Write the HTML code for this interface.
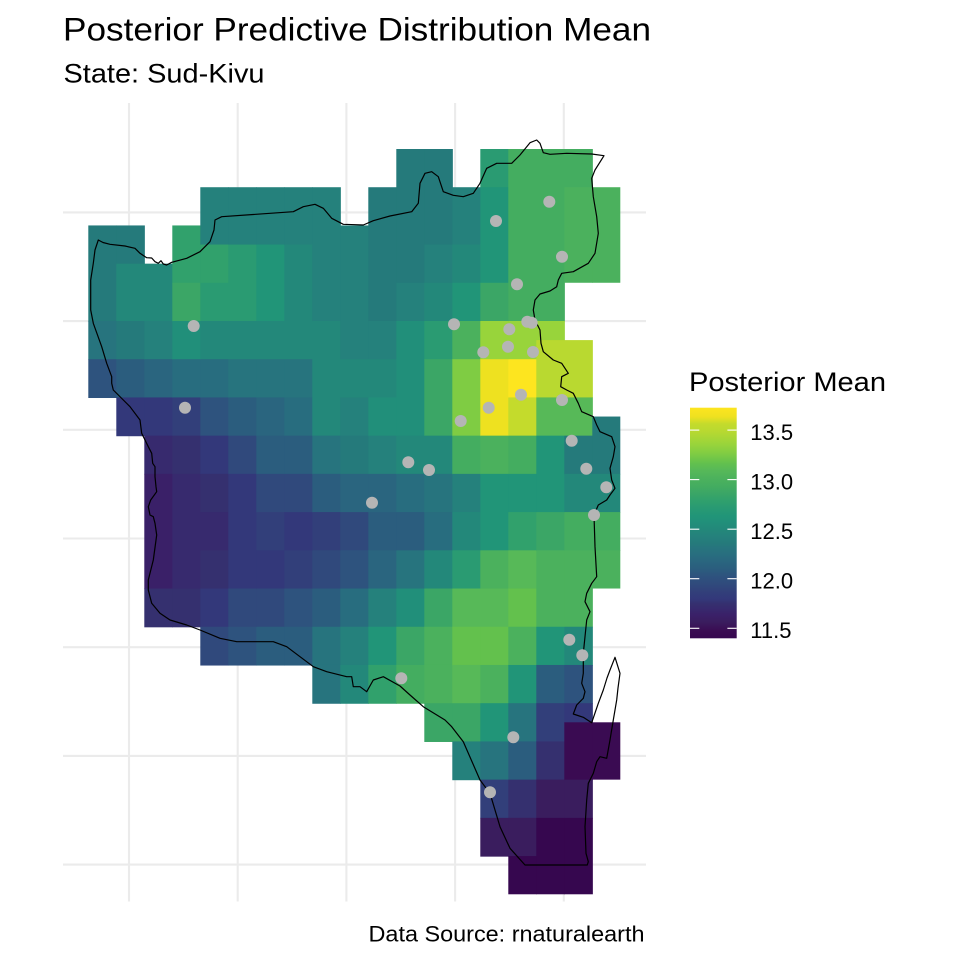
<!DOCTYPE html>
<html><head><meta charset="utf-8"><style>
html,body{margin:0;padding:0;background:#fff;width:960px;height:960px;overflow:hidden}
svg{display:block}
text{font-family:"Liberation Sans",Arial,sans-serif;fill:#000}
</style></head><body>
<svg width="960" height="960" viewBox="0 0 960 960" xmlns="http://www.w3.org/2000/svg">
<rect width="960" height="960" fill="#fff"/>
<defs>
<linearGradient id="vir" x1="0" y1="0" x2="0" y2="1">
<stop offset="0" stop-color="#fde51f"/><stop offset="0.04" stop-color="#eee120"/><stop offset="0.07" stop-color="#c4db2c"/><stop offset="0.1" stop-color="#b9d930"/><stop offset="0.16" stop-color="#98d43b"/><stop offset="0.2" stop-color="#7fcc43"/><stop offset="0.24" stop-color="#63c14d"/><stop offset="0.27" stop-color="#57b958"/><stop offset="0.31" stop-color="#4bb15d"/><stop offset="0.34" stop-color="#44ad60"/><stop offset="0.37" stop-color="#3ba666"/><stop offset="0.4" stop-color="#31a16c"/><stop offset="0.43" stop-color="#2a9b72"/><stop offset="0.47" stop-color="#219578"/><stop offset="0.5" stop-color="#218f7a"/><stop offset="0.53" stop-color="#23887a"/><stop offset="0.56" stop-color="#25817c"/><stop offset="0.59" stop-color="#257a7b"/><stop offset="0.61" stop-color="#27747e"/><stop offset="0.64" stop-color="#286d7f"/><stop offset="0.67" stop-color="#2a657f"/><stop offset="0.7" stop-color="#2b5d7e"/><stop offset="0.73" stop-color="#2e537e"/><stop offset="0.77" stop-color="#30497c"/><stop offset="0.8" stop-color="#323f7a"/><stop offset="0.83" stop-color="#33387a"/><stop offset="0.85" stop-color="#35306f"/><stop offset="0.87" stop-color="#372a6e"/><stop offset="0.9" stop-color="#3a2068"/><stop offset="0.93" stop-color="#3a1d5e"/><stop offset="0.97" stop-color="#3a0b52"/><stop offset="1" stop-color="#36074f"/>
</linearGradient>
</defs>
<g stroke="#ebebeb" stroke-width="2.1">
<line x1="63" y1="212.4" x2="646" y2="212.4"/><line x1="63" y1="321.1" x2="646" y2="321.1"/><line x1="63" y1="429.8" x2="646" y2="429.8"/><line x1="63" y1="538.5" x2="646" y2="538.5"/><line x1="63" y1="647.2" x2="646" y2="647.2"/><line x1="63" y1="755.9" x2="646" y2="755.9"/><line x1="63" y1="864.6" x2="646" y2="864.6"/>
<line x1="129" y1="103" x2="129" y2="901.5"/><line x1="237.7" y1="103" x2="237.7" y2="901.5"/><line x1="346.4" y1="103" x2="346.4" y2="901.5"/><line x1="455.1" y1="103" x2="455.1" y2="901.5"/><line x1="563.8" y1="103" x2="563.8" y2="901.5"/>
</g>
<g transform="translate(88.3 149) scale(28 19.11)">
<rect x="0" y="4" width="1.02" height="5.03" fill="#257a7b"/><rect x="0" y="9" width="1.02" height="2.03" fill="#27747e"/><rect x="0" y="11" width="1.02" height="2.03" fill="#2e537e"/>
<rect x="1" y="4" width="1.02" height="2.03" fill="#257a7b"/><rect x="1" y="6" width="1.02" height="3.03" fill="#23887a"/><rect x="1" y="9" width="1.02" height="2.03" fill="#257a7b"/><rect x="1" y="11" width="1.02" height="2.03" fill="#2b5d7e"/><rect x="1" y="13" width="1.02" height="2.03" fill="#33387a"/>
<rect x="2" y="6" width="1.02" height="3.03" fill="#23887a"/><rect x="2" y="9" width="1.02" height="2.03" fill="#25817c"/><rect x="2" y="11" width="1.02" height="2.03" fill="#2a657f"/><rect x="2" y="13" width="1.02" height="2.03" fill="#33387a"/><rect x="2" y="15" width="1.02" height="2.03" fill="#372a6e"/><rect x="2" y="17" width="1.02" height="6.03" fill="#3a2068"/><rect x="2" y="23" width="1.02" height="2.03" fill="#35306f"/>
<rect x="3" y="4" width="1.02" height="3.03" fill="#31a16c"/><rect x="3" y="7" width="1.02" height="2.03" fill="#3ba666"/><rect x="3" y="9" width="1.02" height="2.03" fill="#218f7a"/><rect x="3" y="11" width="1.02" height="2.03" fill="#286d7f"/><rect x="3" y="13" width="1.02" height="2.03" fill="#323f7a"/><rect x="3" y="15" width="1.02" height="2.03" fill="#35306f"/><rect x="3" y="17" width="1.02" height="6.03" fill="#372a6e"/><rect x="3" y="23" width="1.02" height="2.03" fill="#35306f"/>
<rect x="4" y="2" width="1.02" height="3.03" fill="#25817c"/><rect x="4" y="5" width="1.02" height="2.03" fill="#31a16c"/><rect x="4" y="7" width="1.02" height="2.03" fill="#2a9b72"/><rect x="4" y="9" width="1.02" height="2.03" fill="#23887a"/><rect x="4" y="11" width="1.02" height="2.03" fill="#286d7f"/><rect x="4" y="13" width="1.02" height="2.03" fill="#2e537e"/><rect x="4" y="15" width="1.02" height="2.03" fill="#33387a"/><rect x="4" y="17" width="1.02" height="2.03" fill="#35306f"/><rect x="4" y="19" width="1.02" height="2.03" fill="#372a6e"/><rect x="4" y="21" width="1.02" height="2.03" fill="#35306f"/><rect x="4" y="23" width="1.02" height="2.03" fill="#33387a"/><rect x="4" y="25" width="1.02" height="2.03" fill="#30497c"/>
<rect x="5" y="2" width="1.02" height="3.03" fill="#25817c"/><rect x="5" y="5" width="1.02" height="4.03" fill="#2a9b72"/><rect x="5" y="9" width="1.02" height="2.03" fill="#23887a"/><rect x="5" y="11" width="1.02" height="2.03" fill="#27747e"/><rect x="5" y="13" width="1.02" height="2.03" fill="#2b5d7e"/><rect x="5" y="15" width="1.02" height="2.03" fill="#30497c"/><rect x="5" y="17" width="1.02" height="6.03" fill="#33387a"/><rect x="5" y="23" width="1.02" height="2.03" fill="#30497c"/><rect x="5" y="25" width="1.02" height="2.03" fill="#2e537e"/>
<rect x="6" y="2" width="1.02" height="3.03" fill="#25817c"/><rect x="6" y="5" width="1.02" height="4.03" fill="#219578"/><rect x="6" y="9" width="1.02" height="2.03" fill="#23887a"/><rect x="6" y="11" width="1.02" height="2.03" fill="#27747e"/><rect x="6" y="13" width="1.02" height="2.03" fill="#2a657f"/><rect x="6" y="15" width="1.02" height="2.03" fill="#2b5d7e"/><rect x="6" y="17" width="1.02" height="2.03" fill="#30497c"/><rect x="6" y="19" width="1.02" height="2.03" fill="#323f7a"/><rect x="6" y="21" width="1.02" height="2.03" fill="#33387a"/><rect x="6" y="23" width="1.02" height="2.03" fill="#30497c"/><rect x="6" y="25" width="1.02" height="2.03" fill="#2b5d7e"/>
<rect x="7" y="2" width="1.02" height="3.03" fill="#25817c"/><rect x="7" y="5" width="1.02" height="6.03" fill="#23887a"/><rect x="7" y="11" width="1.02" height="2.03" fill="#27747e"/><rect x="7" y="13" width="1.02" height="2.03" fill="#286d7f"/><rect x="7" y="15" width="1.02" height="2.03" fill="#2b5d7e"/><rect x="7" y="17" width="1.02" height="2.03" fill="#30497c"/><rect x="7" y="19" width="1.02" height="2.03" fill="#33387a"/><rect x="7" y="21" width="1.02" height="2.03" fill="#323f7a"/><rect x="7" y="23" width="1.02" height="2.03" fill="#2e537e"/><rect x="7" y="25" width="1.02" height="2.03" fill="#2b5d7e"/>
<rect x="8" y="2" width="1.02" height="7.03" fill="#25817c"/><rect x="8" y="9" width="1.02" height="6.03" fill="#23887a"/><rect x="8" y="15" width="1.02" height="2.03" fill="#27747e"/><rect x="8" y="17" width="1.02" height="2.03" fill="#2b5d7e"/><rect x="8" y="19" width="1.02" height="2.03" fill="#323f7a"/><rect x="8" y="21" width="1.02" height="2.03" fill="#30497c"/><rect x="8" y="23" width="1.02" height="2.03" fill="#2b5d7e"/><rect x="8" y="25" width="1.02" height="2.03" fill="#27747e"/><rect x="8" y="27" width="1.02" height="2.03" fill="#27747e"/>
<rect x="9" y="4" width="1.02" height="7.03" fill="#25817c"/><rect x="9" y="11" width="1.02" height="2.03" fill="#23887a"/><rect x="9" y="13" width="1.02" height="2.03" fill="#25817c"/><rect x="9" y="15" width="1.02" height="2.03" fill="#257a7b"/><rect x="9" y="17" width="1.02" height="2.03" fill="#2a657f"/><rect x="9" y="19" width="1.02" height="2.03" fill="#30497c"/><rect x="9" y="21" width="1.02" height="2.03" fill="#2e537e"/><rect x="9" y="23" width="1.02" height="2.03" fill="#286d7f"/><rect x="9" y="25" width="1.02" height="2.03" fill="#25817c"/><rect x="9" y="27" width="1.02" height="2.03" fill="#23887a"/>
<rect x="10" y="2" width="1.02" height="7.03" fill="#257a7b"/><rect x="10" y="9" width="1.02" height="2.03" fill="#25817c"/><rect x="10" y="11" width="1.02" height="2.03" fill="#23887a"/><rect x="10" y="13" width="1.02" height="2.03" fill="#218f7a"/><rect x="10" y="15" width="1.02" height="2.03" fill="#25817c"/><rect x="10" y="17" width="1.02" height="2.03" fill="#2a657f"/><rect x="10" y="19" width="1.02" height="2.03" fill="#2b5d7e"/><rect x="10" y="21" width="1.02" height="2.03" fill="#2a657f"/><rect x="10" y="23" width="1.02" height="2.03" fill="#25817c"/><rect x="10" y="25" width="1.02" height="2.03" fill="#219578"/><rect x="10" y="27" width="1.02" height="2.03" fill="#31a16c"/>
<rect x="11" y="0" width="1.02" height="7.03" fill="#257a7b"/><rect x="11" y="7" width="1.02" height="2.03" fill="#25817c"/><rect x="11" y="9" width="1.02" height="6.03" fill="#218f7a"/><rect x="11" y="15" width="1.02" height="2.03" fill="#23887a"/><rect x="11" y="17" width="1.02" height="2.03" fill="#286d7f"/><rect x="11" y="19" width="1.02" height="2.03" fill="#2b5d7e"/><rect x="11" y="21" width="1.02" height="2.03" fill="#27747e"/><rect x="11" y="23" width="1.02" height="2.03" fill="#218f7a"/><rect x="11" y="25" width="1.02" height="2.03" fill="#3ba666"/><rect x="11" y="27" width="1.02" height="2.03" fill="#44ad60"/>
<rect x="12" y="0" width="1.02" height="5.03" fill="#257a7b"/><rect x="12" y="5" width="1.02" height="2.03" fill="#25817c"/><rect x="12" y="7" width="1.02" height="2.03" fill="#23887a"/><rect x="12" y="9" width="1.02" height="2.03" fill="#2a9b72"/><rect x="12" y="11" width="1.02" height="4.03" fill="#3ba666"/><rect x="12" y="15" width="1.02" height="2.03" fill="#23887a"/><rect x="12" y="17" width="1.02" height="2.03" fill="#27747e"/><rect x="12" y="19" width="1.02" height="2.03" fill="#286d7f"/><rect x="12" y="21" width="1.02" height="2.03" fill="#23887a"/><rect x="12" y="23" width="1.02" height="2.03" fill="#3ba666"/><rect x="12" y="25" width="1.02" height="2.03" fill="#4bb15d"/><rect x="12" y="27" width="1.02" height="2.03" fill="#4bb15d"/><rect x="12" y="29" width="1.02" height="2.03" fill="#3ba666"/>
<rect x="13" y="2" width="1.02" height="3.03" fill="#25817c"/><rect x="13" y="5" width="1.02" height="2.03" fill="#23887a"/><rect x="13" y="7" width="1.02" height="2.03" fill="#219578"/><rect x="13" y="9" width="1.02" height="2.03" fill="#4bb15d"/><rect x="13" y="11" width="1.02" height="4.03" fill="#7fcc43"/><rect x="13" y="15" width="1.02" height="2.03" fill="#44ad60"/><rect x="13" y="17" width="1.02" height="2.03" fill="#25817c"/><rect x="13" y="19" width="1.02" height="2.03" fill="#23887a"/><rect x="13" y="21" width="1.02" height="2.03" fill="#2a9b72"/><rect x="13" y="23" width="1.02" height="2.03" fill="#57b958"/><rect x="13" y="25" width="1.02" height="2.03" fill="#63c14d"/><rect x="13" y="27" width="1.02" height="2.03" fill="#57b958"/><rect x="13" y="29" width="1.02" height="2.03" fill="#3ba666"/><rect x="13" y="31" width="1.02" height="2.03" fill="#25817c"/>
<rect x="14" y="0" width="1.02" height="2.03" fill="#2a9b72"/><rect x="14" y="2" width="1.02" height="5.03" fill="#219578"/><rect x="14" y="7" width="1.02" height="2.03" fill="#3ba666"/><rect x="14" y="9" width="1.02" height="2.03" fill="#98d43b"/><rect x="14" y="11" width="1.02" height="4.03" fill="#eee120"/><rect x="14" y="15" width="1.02" height="2.03" fill="#4bb15d"/><rect x="14" y="17" width="1.02" height="4.03" fill="#219578"/><rect x="14" y="21" width="1.02" height="2.03" fill="#4bb15d"/><rect x="14" y="23" width="1.02" height="2.03" fill="#57b958"/><rect x="14" y="25" width="1.02" height="2.03" fill="#63c14d"/><rect x="14" y="27" width="1.02" height="2.03" fill="#4bb15d"/><rect x="14" y="29" width="1.02" height="2.03" fill="#219578"/><rect x="14" y="31" width="1.02" height="2.03" fill="#27747e"/><rect x="14" y="33" width="1.02" height="2.03" fill="#323f7a"/><rect x="14" y="35" width="1.02" height="2.03" fill="#3a1d5e"/>
<rect x="15" y="0" width="1.02" height="9.03" fill="#44ad60"/><rect x="15" y="9" width="1.02" height="2.03" fill="#98d43b"/><rect x="15" y="11" width="1.02" height="2.03" fill="#fde51f"/><rect x="15" y="13" width="1.02" height="2.03" fill="#c4db2c"/><rect x="15" y="15" width="1.02" height="2.03" fill="#44ad60"/><rect x="15" y="17" width="1.02" height="2.03" fill="#219578"/><rect x="15" y="19" width="1.02" height="2.03" fill="#31a16c"/><rect x="15" y="21" width="1.02" height="2.03" fill="#57b958"/><rect x="15" y="23" width="1.02" height="2.03" fill="#63c14d"/><rect x="15" y="25" width="1.02" height="2.03" fill="#4bb15d"/><rect x="15" y="27" width="1.02" height="2.03" fill="#219578"/><rect x="15" y="29" width="1.02" height="2.03" fill="#27747e"/><rect x="15" y="31" width="1.02" height="2.03" fill="#2b5d7e"/><rect x="15" y="33" width="1.02" height="2.03" fill="#35306f"/><rect x="15" y="35" width="1.02" height="2.03" fill="#3a1d5e"/><rect x="15" y="37" width="1.02" height="2" fill="#36074f"/>
<rect x="16" y="0" width="1.02" height="9.03" fill="#44ad60"/><rect x="16" y="9" width="1.02" height="1.03" fill="#98d43b"/><rect x="16" y="10" width="1.02" height="3.03" fill="#b9d930"/><rect x="16" y="13" width="1.02" height="2.03" fill="#57b958"/><rect x="16" y="15" width="1.02" height="4.03" fill="#219578"/><rect x="16" y="19" width="1.02" height="2.03" fill="#3ba666"/><rect x="16" y="21" width="1.02" height="4.03" fill="#4bb15d"/><rect x="16" y="25" width="1.02" height="2.03" fill="#219578"/><rect x="16" y="27" width="1.02" height="2.03" fill="#2b5d7e"/><rect x="16" y="29" width="1.02" height="2.03" fill="#323f7a"/><rect x="16" y="31" width="1.02" height="2.03" fill="#35306f"/><rect x="16" y="33" width="1.02" height="2.03" fill="#3a1d5e"/><rect x="16" y="35" width="1.02" height="4" fill="#36074f"/>
<rect x="17" y="0" width="1.02" height="2.03" fill="#44ad60"/><rect x="17" y="2" width="1.02" height="5" fill="#4bb15d"/><rect x="17" y="10" width="1.02" height="3.03" fill="#b9d930"/><rect x="17" y="13" width="1.02" height="2.03" fill="#57b958"/><rect x="17" y="15" width="1.02" height="2.03" fill="#257a7b"/><rect x="17" y="17" width="1.02" height="2.03" fill="#23887a"/><rect x="17" y="19" width="1.02" height="2.03" fill="#44ad60"/><rect x="17" y="21" width="1.02" height="4.03" fill="#4bb15d"/><rect x="17" y="25" width="1.02" height="2.03" fill="#23887a"/><rect x="17" y="27" width="1.02" height="2.03" fill="#2e537e"/><rect x="17" y="29" width="1.02" height="1.03" fill="#33387a"/><rect x="17" y="30" width="1.02" height="3.03" fill="#3a0b52"/><rect x="17" y="33" width="1.02" height="2.03" fill="#3a1d5e"/><rect x="17" y="35" width="1.02" height="4" fill="#36074f"/>
<rect x="18" y="2" width="1" height="5" fill="#4bb15d"/><rect x="18" y="14" width="1" height="3.03" fill="#257a7b"/><rect x="18" y="17" width="1" height="2.03" fill="#23887a"/><rect x="18" y="19" width="1" height="2.03" fill="#44ad60"/><rect x="18" y="21" width="1" height="2" fill="#4bb15d"/><rect x="18" y="30" width="1" height="3" fill="#3a0b52"/>
</g>
<path fill="none" stroke="#000" stroke-width="1.2" stroke-linejoin="round" d="M98.3 240 L103 242.5 L110 244.3 L125 246 L135 248.3 L140 253.3 L146.7 257.7 L151.7 258 L155 261.7 L158.3 263.3 L161 260.7 L163.3 264 L166.7 265 L171.7 262.3 L186.7 258.3 L200 251.7 L210 241.7 L214 230 L215 220 L221.7 216.7 L293.3 211.7 L303.3 206.7 L315 204.3 L323.3 208.3 L331.7 218.3 L343.3 224.3 L363.3 225 L373.3 220.7 L390 216 L411.7 211.7 L418.3 203.3 L420 183.3 L425 173.3 L431.7 171.7 L438.3 176.7 L443.3 191.7 L453.3 195.3 L463.3 196.7 L473.3 193.3 L480 183.3 L486.7 168.3 L496.7 163.3 L511.7 163.3 L520 155 L530 142.7 L536.7 140 L540 143.3 L543.3 152.7 L550 154.3 L566.7 153.3 L591.7 154 L604 155.7 L595 170 L591.7 178.3 L593.3 196.7 L596.7 216.7 L598.3 233.3 L595 253.3 L588.3 263.3 L573.3 271.7 L561.7 273.3 L558.3 280 L556.7 286.7 L550 291 L540 294 L535 300 L533.3 310 L535 320 L540 330 L541 343.3 L543.3 351.7 L553.3 360 L561.7 363.3 L568.3 373.3 L561.7 376.7 L560.7 386.7 L566.7 390 L573.3 393.3 L578.3 403.3 L581.7 411.7 L593.3 416.7 L596.7 425 L600 431.7 L611.7 436.7 L615 446.7 L613.3 456.7 L610 468.3 L611.7 480 L615 488.3 L610 495 L606.7 500 L598.3 505 L594 515 L595 546.7 L596.7 576.7 L591.7 583.3 L586.7 593.3 L585 601.7 L590 611.7 L586.7 620 L585 636.7 L583.3 653.3 L583.3 673.3 L581.7 683.3 L585 691.7 L583.3 698.3 L576.7 705 L573.3 714 L583.3 717.3 L591.7 722.7 L595 713 L598.3 703.3 L603.3 690 L607 678 L610 670 L615 657.3 L620 673.3 L618 688 L616.7 700 L613.3 720 L610 740 L606.7 758.3 L600 756.7 L596.7 761.7 L593.3 773.3 L588.3 783.3 L586.7 800 L585 826.7 L586 853.3 L588.3 861.7 L587.3 865 L525 865 L510 848.3 L500 826.7 L490 793.3 L480 780 L463.3 741.7 L451.7 726.7 L445 720 L423.3 706.7 L410 695 L400 686 L383.3 676.7 L373.3 680 L366.7 691.7 L360 686.7 L353.3 686.7 L351.7 676.7 L346.7 676.7 L326.7 671.7 L313.3 666.7 L300 656.7 L286.7 646.7 L273.3 641.7 L236.7 641.7 L220 638.3 L200 630 L186.7 625 L170 620 L160 613.3 L151.7 603.3 L148.3 590 L148.3 580 L153.3 560 L156.7 535 L155 523.3 L153.3 516.7 L150 515 L148.3 506.7 L150.7 500 L156.7 491.7 L156 486.7 L155 476.7 L155 466.7 L152.7 463.3 L151.7 453.3 L148.3 446.7 L145 440 L141.7 433.3 L140 420 L130 406.7 L118.3 395 L113.3 390 L111.7 383.3 L111.7 376.7 L106.7 363.3 L101.7 346.7 L93.3 323.3 L90.7 310 L90.7 280 L93.3 263.3 L95 250 Z"/>
<g fill="#b5b5b5">
<circle cx="549.3" cy="201.7" r="6"/><circle cx="496" cy="221" r="6"/><circle cx="562" cy="256.7" r="6"/><circle cx="517" cy="284.3" r="6"/><circle cx="193.7" cy="326" r="6"/><circle cx="454" cy="324.3" r="6"/><circle cx="509.3" cy="329.3" r="6"/><circle cx="527.3" cy="321.7" r="6"/><circle cx="531.7" cy="322.7" r="6"/><circle cx="508" cy="346.7" r="6"/><circle cx="483.3" cy="352.3" r="6"/><circle cx="533" cy="352" r="6"/><circle cx="521" cy="394.7" r="6"/><circle cx="562" cy="400" r="6"/><circle cx="185" cy="407.7" r="6"/><circle cx="488.7" cy="407.7" r="6"/><circle cx="460.7" cy="421" r="6"/><circle cx="571.7" cy="440.7" r="6"/><circle cx="408.3" cy="462.3" r="6"/><circle cx="429" cy="470" r="6"/><circle cx="586.3" cy="468.7" r="6"/><circle cx="606.3" cy="487.3" r="6"/><circle cx="372" cy="502.7" r="6"/><circle cx="594" cy="515" r="6"/><circle cx="569.3" cy="639.7" r="6"/><circle cx="582.3" cy="655.3" r="6"/><circle cx="401.3" cy="678.3" r="6"/><circle cx="513.3" cy="737.3" r="6"/><circle cx="490" cy="792.3" r="6"/>
</g>
<text x="63" y="40.7" font-size="32.5" textLength="588" lengthAdjust="spacingAndGlyphs">Posterior Predictive Distribution Mean</text>
<text x="63.5" y="82.3" font-size="27" textLength="201" lengthAdjust="spacingAndGlyphs">State: Sud-Kivu</text>
<text x="368.5" y="941.7" font-size="22" textLength="276" lengthAdjust="spacingAndGlyphs">Data Source: rnaturalearth</text>
<text x="689" y="391" font-size="27" textLength="197" lengthAdjust="spacingAndGlyphs">Posterior Mean</text>
<rect x="690" y="407.7" width="46.7" height="230.6" fill="url(#vir)"/>
<g stroke="#fff" stroke-width="1.1">
<line x1="690" y1="430.1" x2="699.3" y2="430.1"/><line x1="727.4" y1="430.1" x2="736.7" y2="430.1"/>
<line x1="690" y1="479.6" x2="699.3" y2="479.6"/><line x1="727.4" y1="479.6" x2="736.7" y2="479.6"/>
<line x1="690" y1="529.2" x2="699.3" y2="529.2"/><line x1="727.4" y1="529.2" x2="736.7" y2="529.2"/>
<line x1="690" y1="578.7" x2="699.3" y2="578.7"/><line x1="727.4" y1="578.7" x2="736.7" y2="578.7"/>
<line x1="690" y1="628.3" x2="699.3" y2="628.3"/><line x1="727.4" y1="628.3" x2="736.7" y2="628.3"/>
</g>
<g font-size="22">
<text x="750.3" y="439.8">13.5</text>
<text x="750.3" y="489.3">13.0</text>
<text x="750.3" y="538.9">12.5</text>
<text x="750.3" y="588.4">12.0</text>
<text x="750.3" y="638">11.5</text>
</g>
</svg>
</body></html>
